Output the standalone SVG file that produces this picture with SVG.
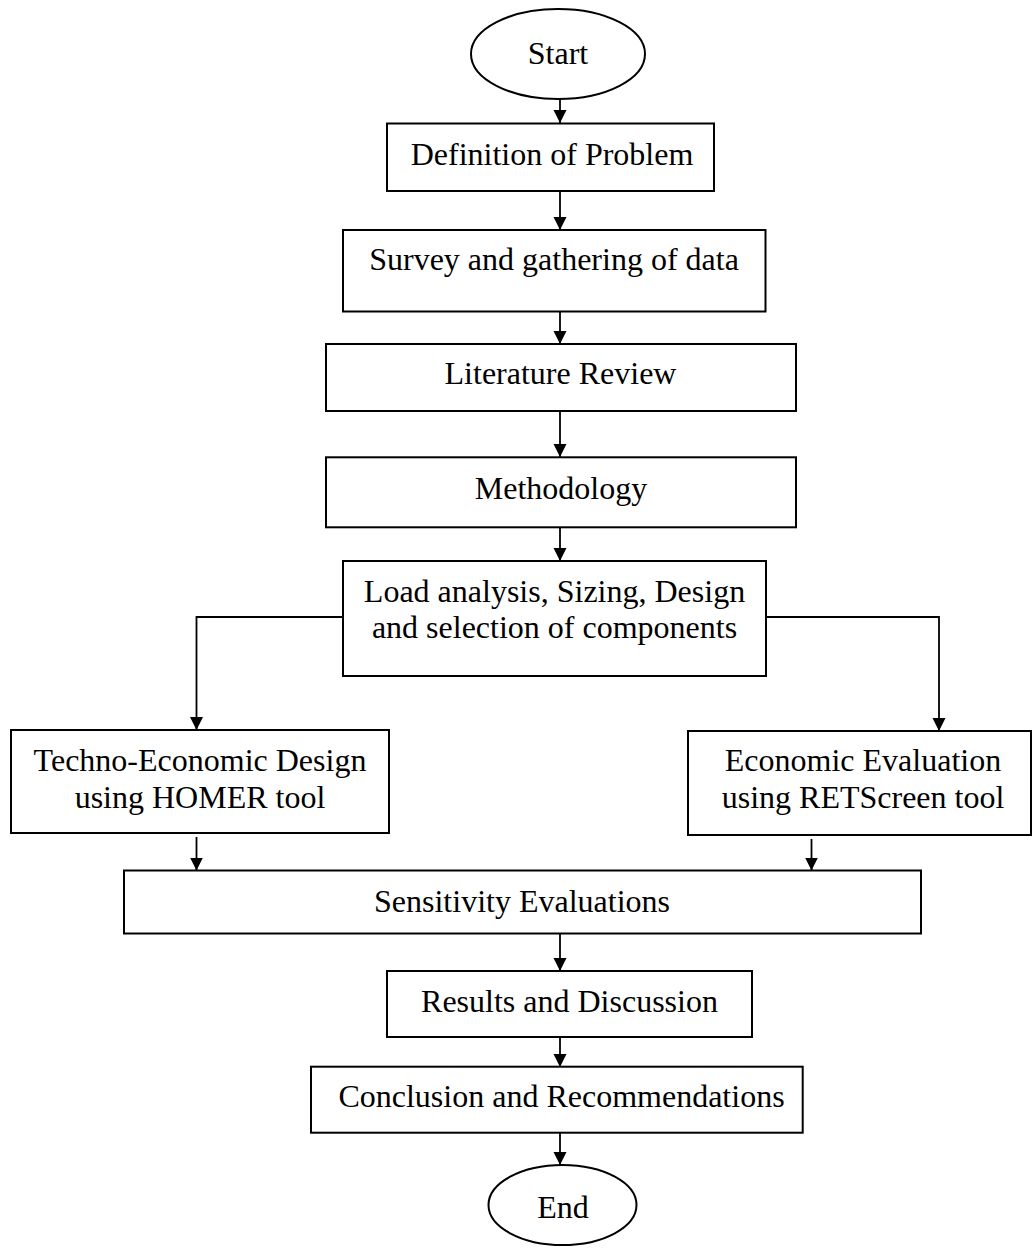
<svg xmlns="http://www.w3.org/2000/svg" width="1032" height="1250" viewBox="0 0 1032 1250">
<style>
.box{fill:#fff;stroke:#000;stroke-width:2}
.t{font-family:"Liberation Serif","Times New Roman",serif;font-size:32px;fill:#000;text-anchor:middle}
.c{fill:none;stroke:#000;stroke-width:1.8}
</style>
<defs>
<marker id="ah" markerUnits="userSpaceOnUse" markerWidth="14" markerHeight="14" refX="13" refY="6.5" orient="auto">
<path d="M0,0 L13,6.5 L0,13 z" fill="#000"/>
</marker>
</defs>
<rect width="1032" height="1250" fill="#fff"/>
<g id="connectors">
<line class="c" x1="560" y1="99" x2="560" y2="123" marker-end="url(#ah)"/>
<line class="c" x1="560" y1="191" x2="560" y2="230" marker-end="url(#ah)"/>
<line class="c" x1="560" y1="312" x2="560" y2="344" marker-end="url(#ah)"/>
<line class="c" x1="560" y1="411" x2="560" y2="457" marker-end="url(#ah)"/>
<line class="c" x1="560" y1="527" x2="560" y2="561" marker-end="url(#ah)"/>
<polyline class="c" points="343,617 196.5,617 196.5,730" marker-end="url(#ah)"/>
<polyline class="c" points="766,617 939,617 939,731" marker-end="url(#ah)"/>
<line class="c" x1="196.5" y1="837" x2="196.5" y2="870.5" marker-end="url(#ah)"/>
<line class="c" x1="811.5" y1="839" x2="811.5" y2="870.5" marker-end="url(#ah)"/>
<line class="c" x1="560" y1="934" x2="560" y2="971" marker-end="url(#ah)"/>
<line class="c" x1="560" y1="1037" x2="560" y2="1067" marker-end="url(#ah)"/>
<line class="c" x1="560" y1="1133" x2="560" y2="1165" marker-end="url(#ah)"/>
</g>
<g id="start"><ellipse class="box" cx="558" cy="54" rx="87" ry="45"/><text class="t" x="558" y="64">Start</text></g>
<g id="definition"><rect class="box" x="387" y="123.5" width="327" height="67.5"/><text class="t" x="552" y="165">Definition of Problem</text></g>
<g id="survey"><rect class="box" x="343" y="230" width="422.5" height="81.5"/><text class="t" x="554" y="270">Survey and gathering of data</text></g>
<g id="literature"><rect class="box" x="326" y="344" width="470" height="67"/><text class="t" x="560.5" y="384">Literature Review</text></g>
<g id="methodology"><rect class="box" x="326" y="457.3" width="470" height="70"/><text class="t" x="561" y="498.5">Methodology</text></g>
<g id="load"><rect class="box" x="343" y="561" width="423" height="115"/><text class="t" x="554.5" y="602">Load analysis, Sizing, Design</text><text class="t" x="554.5" y="638">and selection of components</text></g>
<g id="homer"><rect class="box" x="11" y="730" width="378" height="103"/><text class="t" x="200" y="771">Techno-Economic Design</text><text class="t" x="200" y="808">using HOMER tool</text></g>
<g id="retscreen"><rect class="box" x="688" y="731" width="343" height="104"/><text class="t" x="863" y="771">Economic Evaluation</text><text class="t" x="863" y="808">using RETScreen tool</text></g>
<g id="sensitivity"><rect class="box" x="124" y="870.5" width="797" height="63"/><text class="t" x="522" y="912">Sensitivity Evaluations</text></g>
<g id="results"><rect class="box" x="387" y="971" width="365" height="66"/><text class="t" x="569.5" y="1012">Results and Discussion</text></g>
<g id="conclusion"><rect class="box" x="311" y="1066.7" width="491.7" height="66"/><text class="t" x="561.5" y="1107">Conclusion and Recommendations</text></g>
<g id="end"><ellipse class="box" cx="562.5" cy="1205" rx="74" ry="40"/><text class="t" x="563" y="1218">End</text></g>
</svg>
